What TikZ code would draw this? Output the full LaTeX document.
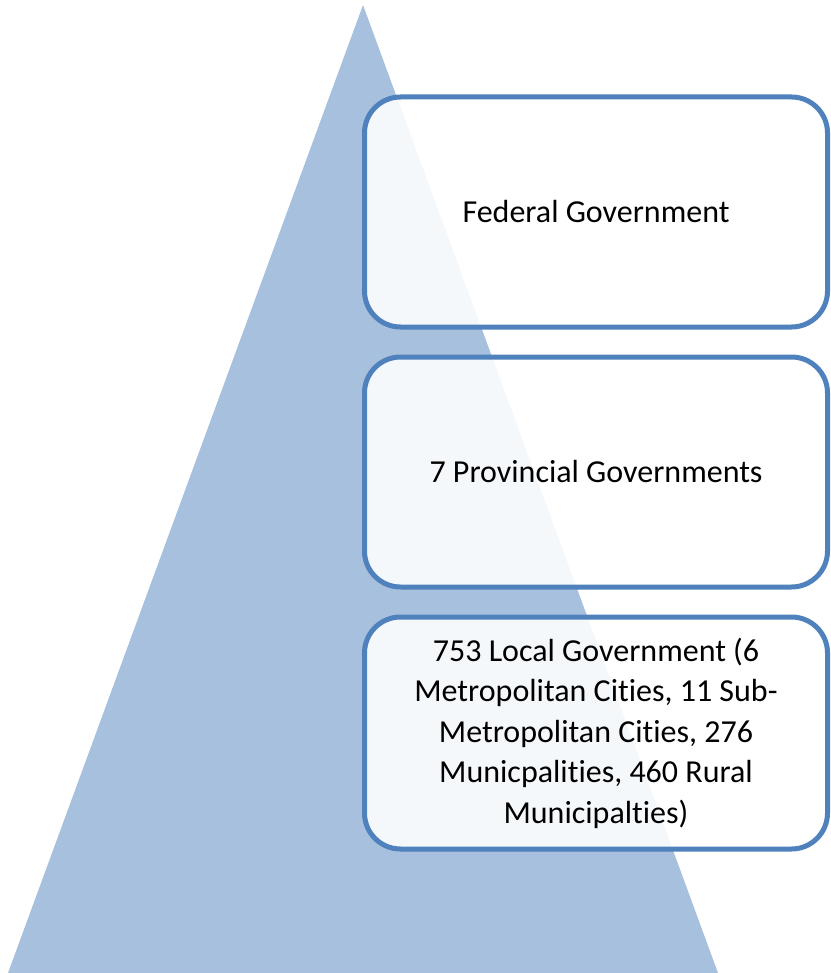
\documentclass[tikz,border=0pt]{standalone}
\usepackage{fontspec}
\setmainfont{Carlito}[Ligatures={NoCommon,NoContextual}]
\definecolor{tri}{HTML}{A7C0DE}
\definecolor{edge}{HTML}{4F81BD}
\begin{document}
\begin{tikzpicture}[x=1pt,y=-1pt,
  level/.style={draw=edge, line width=5pt, fill=white, fill opacity=0.89, text opacity=1,
    rounded corners=36pt, minimum width=463pt, minimum height=230pt, inner sep=0pt,
    align=center, font=\fontsize{32}{40.5}\selectfont, text=black}]
\useasboundingbox (0,0) rectangle (830,973);
\fill[tri] (363,5) -- (718,973) -- (8,973) -- cycle;
\node[level] (fed) at (596,212) {Federal Government};
\node[level] (prov) at (596,472) {7 Provincial Governments};
\node[level, minimum height=232pt] (loc) at (596,733) {753 Local Government (6\\Metropolitan Cities, 11 Sub-\\Metropolitan Cities, 276\\Municpalities, 460 Rural\\Municipalties)};
\end{tikzpicture}
\end{document}
